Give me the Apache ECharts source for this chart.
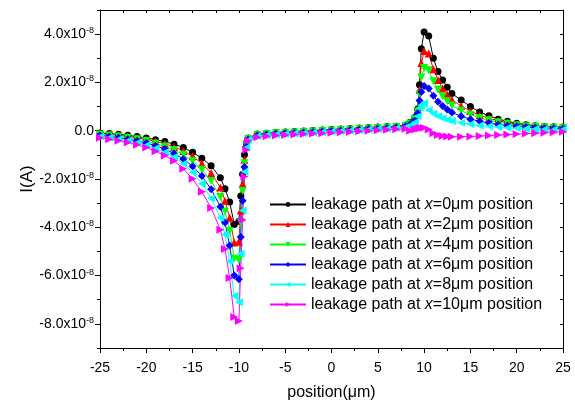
<!DOCTYPE html>
<html>
<head>
<meta charset="utf-8">
<script src="https://cdn.jsdelivr.net/npm/echarts@6/dist/echarts.min.js"></script>
<style>
  html, body { margin: 0; padding: 0; background: #fff; }
  #chart { width: 575px; height: 406px; }
</style>
</head>
<body>
<div id="chart"></div>
<script>
// positions (um) where the leakage current was sampled
var positions = [-25,-24,-23,-22,-21,-20,-19,-18,-17,-16,-15,-14,-13,-12,-11.5,-11,-10.5,-10,
    -9.8,-9.6,-9.4,-9.2,-9,
    -8,-7,-6,-5,-4,-3,-2,-1,0,1,2,3,4,5,6,7,8,
    8.5,9,9.3,9.5,9.7,
    10,10.5,11,11.5,12,12.5,13,
    14,15,16,17,18,19,20,21,22,23,24,25];

// current in units of 1e-8 A
var curX0 = [-0.09,-0.12,-0.15,-0.19,-0.24,-0.30,-0.37,-0.45,-0.56,-0.70,-0.89,-1.14,-1.45,-1.95,-2.4,-2.95,-3.88,-3.75,
    -2.7,-1.8,-1.0,-0.5,-0.3,
    -0.14,-0.10,-0.07,-0.05,-0.03,-0.01,0.01,0.03,0.05,0.07,0.09,0.11,0.13,0.15,0.17,0.19,0.24,
    0.35,0.55,0.9,1.9,3.4,
    4.09,3.92,3.0,2.45,2.1,1.8,1.54,
    1.27,1.0,0.77,0.62,0.48,0.39,0.31,0.25,0.21,0.17,0.16,0.15];
var curX2 = [-0.12,-0.15,-0.19,-0.23,-0.29,-0.36,-0.44,-0.54,-0.67,-0.84,-1.06,-1.36,-1.75,-2.35,-2.9,-3.6,-4.63,-4.6,
    -3.3,-2.2,-1.2,-0.55,-0.32,
    -0.16,-0.12,-0.09,-0.07,-0.05,-0.03,-0.01,0.01,0.03,0.05,0.07,0.09,0.11,0.13,0.15,0.17,0.22,
    0.32,0.5,0.85,1.7,2.8,
    3.3,3.2,2.55,2.1,1.75,1.5,1.28,
    1.02,0.82,0.64,0.52,0.41,0.34,0.27,0.22,0.19,0.16,0.14,0.13];
var curX4 = [-0.16,-0.20,-0.24,-0.29,-0.35,-0.43,-0.53,-0.65,-0.80,-1.00,-1.26,-1.62,-2.08,-2.75,-3.35,-4.15,-5.3,-5.35,
    -3.8,-2.5,-1.35,-0.6,-0.34,
    -0.18,-0.14,-0.11,-0.09,-0.07,-0.05,-0.03,-0.01,0.01,0.03,0.05,0.07,0.09,0.11,0.13,0.15,0.2,
    0.3,0.47,0.8,1.5,2.2,
    2.6,2.5,2.05,1.7,1.42,1.22,1.04,
    0.83,0.66,0.53,0.43,0.35,0.29,0.23,0.19,0.16,0.14,0.12,0.11];
var curX6 = [-0.20,-0.24,-0.29,-0.35,-0.42,-0.51,-0.62,-0.76,-0.94,-1.17,-1.47,-1.88,-2.42,-3.15,-3.8,-4.75,-6.0,-6.15,
    -4.4,-2.9,-1.5,-0.65,-0.36,
    -0.2,-0.16,-0.13,-0.11,-0.09,-0.07,-0.05,-0.03,-0.01,0.01,0.03,0.05,0.07,0.09,0.11,0.13,0.18,
    0.27,0.42,0.72,1.25,1.6,
    1.85,1.75,1.45,1.2,1.02,0.88,0.75,
    0.6,0.48,0.39,0.32,0.26,0.22,0.18,0.15,0.13,0.11,0.10,0.09];
var curX8 = [-0.24,-0.29,-0.35,-0.42,-0.50,-0.60,-0.73,-0.89,-1.09,-1.37,-1.73,-2.2,-2.8,-3.6,-4.3,-5.4,-6.85,-7.1,
    -5.1,-3.3,-1.7,-0.7,-0.38,
    -0.23,-0.19,-0.16,-0.14,-0.12,-0.10,-0.08,-0.06,-0.04,-0.02,0.0,0.02,0.04,0.06,0.08,0.10,0.14,
    0.22,0.35,0.6,0.95,1.05,
    1.15,0.85,0.7,0.6,0.52,0.45,0.4,
    0.33,0.27,0.22,0.18,0.15,0.12,0.10,0.08,0.07,0.06,0.05,0.05];
var curX10 = [-0.29,-0.35,-0.42,-0.49,-0.58,-0.70,-0.85,-1.03,-1.24,-1.58,-1.99,-2.53,-3.2,-4.1,-4.9,-6.1,-7.72,-7.88,
    -5.7,-3.7,-1.9,-0.8,-0.42,
    -0.27,-0.23,-0.2,-0.18,-0.16,-0.14,-0.12,-0.10,-0.08,-0.06,-0.04,-0.02,0.0,0.02,0.04,0.06,0.08,
    0.0,0.05,0.08,0.1,0.11,
    0.12,0.05,-0.1,-0.18,-0.22,-0.24,-0.25,
    -0.25,-0.24,-0.22,-0.2,-0.18,-0.16,-0.14,-0.12,-0.1,-0.08,-0.06,-0.04];

var seriesNames = [
    'leakage path at x=0\u03bcm position',
    'leakage path at x=2\u03bcm position',
    'leakage path at x=4\u03bcm position',
    'leakage path at x=6\u03bcm position',
    'leakage path at x=8\u03bcm position',
    'leakage path at x=10\u03bcm position'
];
var seriesData = [curX0, curX2, curX4, curX6, curX8, curX10];
var seriesColors = ['#000000', '#ff0000', '#00ff00', '#0000ff', '#00ffff', '#ff00ff'];
var seriesSymbols = ['circle', 'triangle', 'triangle', 'diamond', 'triangle', 'triangle'];
var seriesRotate = [0, 0, 180, 0, 90, -90];

// y ticks in 1e-8 A
var yMajor = [-8, -6, -4, -2, 0, 2, 4];
var yMinor = [-9, -7, -5, -3, -1, 1, 3, 5];
var yAll = [-9, -8, -7, -6, -5, -4, -3, -2, -1, 0, 1, 2, 3, 4, 5];

var FONT = 'Liberation Sans, Arial, sans-serif';

function toAmp(list) {
    return list.map(function (v) { return v * 1e-8; });
}

var chart = echarts.init(document.getElementById('chart'));

var series = seriesNames.map(function (name, i) {
    return {
        name: name,
        type: 'line',
        data: positions.map(function (x, k) { return [x, seriesData[i][k] * 1e-8]; }),
        symbol: seriesSymbols[i],
        symbolRotate: seriesRotate[i],
        symbolSize: seriesSymbols[i] === 'circle' ? 7 : 8,
        showAllSymbol: true,
        color: seriesColors[i],
        lineStyle: { width: 1, color: seriesColors[i] },
        itemStyle: { color: seriesColors[i] }
    };
});

var option = {
    animation: false,
    grid: { left: 100, right: 12, top: 10, bottom: 52 },
    legend: {
        orient: 'vertical',
        left: 264,
        top: 191,
        itemWidth: 36,
        itemHeight: 6,
        itemGap: 3,
        data: seriesNames,
        formatter: function (name) {
            return name.replace(' x=', ' {i|x}=');
        },
        textStyle: {
            fontFamily: FONT,
            fontSize: 16,
            lineHeight: 17,
            color: '#000',
            rich: {
                i: { fontFamily: FONT, fontSize: 16, lineHeight: 17, fontStyle: 'italic', color: '#000' }
            }
        }
    },
    xAxis: [
        {
            type: 'value',
            position: 'bottom',
            min: -25,
            max: 25,
            interval: 5,
            name: 'position(\u03bcm)',
            nameLocation: 'middle',
            nameGap: 37,
            nameMoveOverlap: false,
            nameTextStyle: { fontFamily: FONT, fontSize: 16, color: '#000' },
            axisLine: { onZero: false, lineStyle: { color: '#000', width: 1 } },
            axisTick: { inside: false, length: 5, lineStyle: { color: '#000' } },
            minorTick: { show: true, splitNumber: 2, length: 3, lineStyle: { color: '#000' } },
            axisLabel: { fontFamily: FONT, fontSize: 14, color: '#000', margin: 13 },
            splitLine: { show: false }
        },
        {
            type: 'value',
            position: 'top',
            min: -25,
            max: 25,
            interval: 2.5,
            axisLine: { onZero: false, lineStyle: { color: '#000', width: 1 } },
            axisTick: { inside: true, length: 3, lineStyle: { color: '#000' } },
            axisLabel: { show: false },
            splitLine: { show: false }
        }
    ],
    yAxis: [
        {
            type: 'value',
            position: 'left',
            min: -9e-8,
            max: 5e-8,
            name: 'I(A)',
            nameLocation: 'middle',
            nameGap: 64,
            // v6 pushes the name away from the labels otherwise
            nameMoveOverlap: false,
            nameTextStyle: { fontFamily: FONT, fontSize: 17, color: '#000' },
            axisLine: { onZero: false, lineStyle: { color: '#000', width: 1 } },
            axisTick: {
                inside: false, length: 5, lineStyle: { color: '#000' },
                customValues: toAmp(yMajor)
            },
            axisLabel: {
                customValues: toAmp(yMajor),
                fontFamily: FONT,
                fontSize: 14,
                color: '#000',
                margin: 6,
                formatter: function (v) {
                    var n = Math.round(v / 1e-8);
                    if (n === 0) return '0.0';
                    return n.toFixed(1) + 'x10{s|-8}';
                },
                rich: {
                    s: { fontFamily: FONT, fontSize: 9, color: '#000', verticalAlign: 'top', padding: [0, 0, 7, 0] }
                }
            },
            splitLine: { show: false }
        },
        {
            // short in-between ticks on the left
            type: 'value',
            position: 'left',
            min: -9e-8,
            max: 5e-8,
            axisLine: { show: false, onZero: false },
            axisTick: {
                inside: false, length: 3, lineStyle: { color: '#000' },
                customValues: toAmp(yMinor)
            },
            axisLabel: { show: false },
            splitLine: { show: false }
        },
        {
            type: 'value',
            position: 'right',
            min: -9e-8,
            max: 5e-8,
            axisLine: { onZero: false, lineStyle: { color: '#000', width: 1 } },
            axisTick: {
                inside: true, length: 3, lineStyle: { color: '#000' },
                customValues: toAmp(yAll)
            },
            axisLabel: { show: false },
            splitLine: { show: false }
        }
    ],
    series: series
};

chart.setOption(option);
</script>
</body>
</html>
